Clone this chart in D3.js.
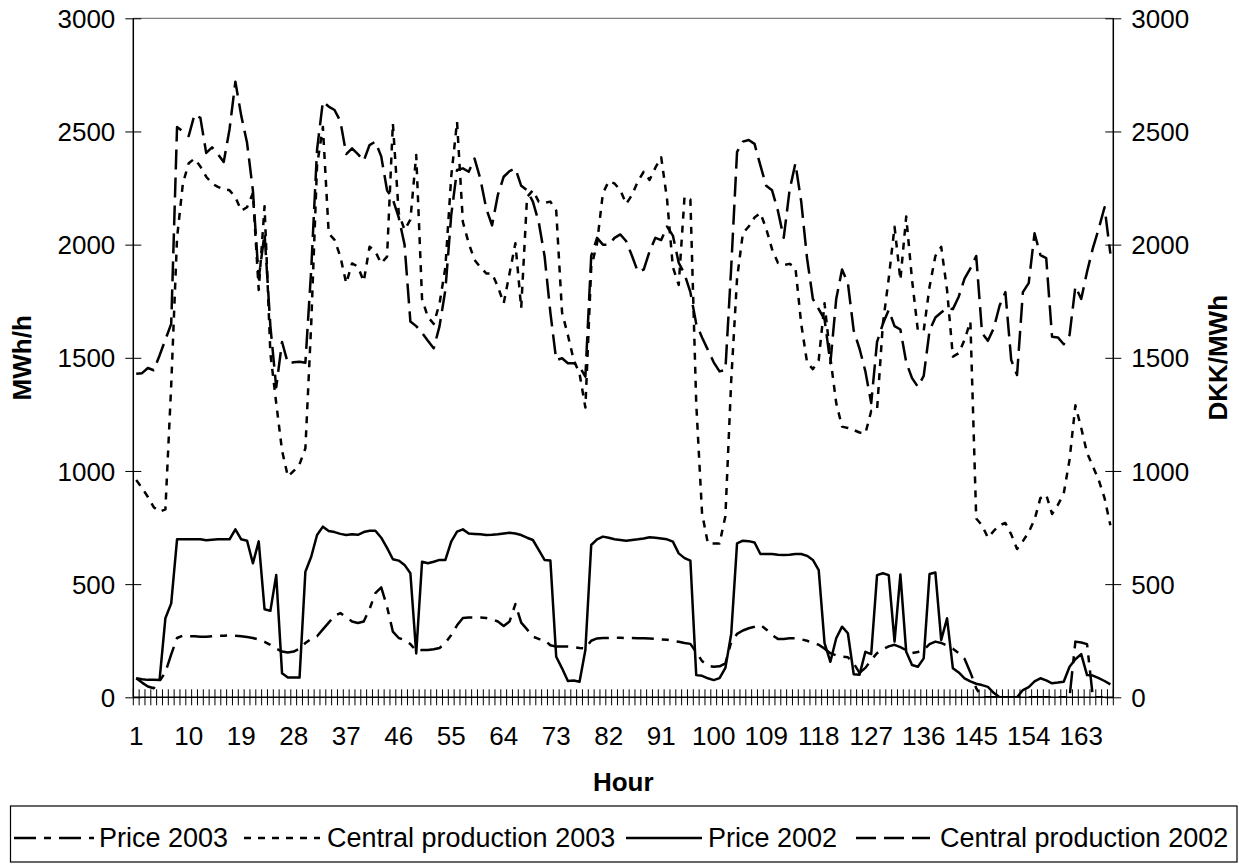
<!DOCTYPE html>
<html>
<head>
<meta charset="utf-8">
<script src="https://cdnjs.cloudflare.com/ajax/libs/d3/7.8.5/d3.min.js"></script>
<style>
body { margin: 0; background: #fff; }
svg { display: block; font-family: "Liberation Sans", Arial, sans-serif; }
</style>
</head>
<body>
<svg id="chart" width="1239" height="868"></svg>
<script>

// categories: hour of the week
var hours = d3.range(1, 169);
var hourLabels = [1, 10, 19, 28, 37, 46, 55, 64, 73, 82, 91, 100, 109, 118, 127, 136, 145, 154, 163];
var yTicks = [0, 500, 1000, 1500, 2000, 2500, 3000];

// DKK/MWh
var price2003 = [
	84, 65, 48, 40, 72, 110, 190, 262, 273, 270,
	270, 268, 268, 270, 272, 272, 274, 272, 270, 266,
	262, 255, 245, 232, 215, 202, 198, 202, 215, 240,
	258, 270, 300, 330, 360, 372, 355, 335, 328, 335,
	390, 460, 486, 400, 290, 262, 253, 235, 205, 209,
	209, 212, 218, 240, 275, 318, 350, 353, 353, 353,
	350, 345, 335, 315, 335, 412, 330, 300, 268, 258,
	253, 230, 224, 224, 224, 222, 218, 216, 250, 260,
	262, 262, 263, 263, 262, 262, 261, 261, 260, 258,
	256, 254, 250, 245, 240, 236, 200, 160, 140, 135,
	137, 150, 245, 280, 295, 305, 312, 320, 300, 275,
	258, 258, 261, 261, 256, 250, 240, 232, 215, 195,
	185, 180, 177, 150, 108, 130, 165, 195, 212, 225,
	232, 222, 208, 195, 200, 209, 235, 246, 240, 228,
	215, 195, 170, 110, 40, 0, 0, 0, 0, 0,
	0, 0, 0, 0, 0, 0, 0, 0, 0, 0,
	0, 246, 242, 235, 0, 0, 0, 0
];

// MWh/h
var central2003 = [
	960, 925, 885, 840, 820, 830, 1380, 2030, 2270, 2360,
	2380, 2345, 2300, 2270, 2255, 2245, 2240, 2210, 2150, 2165,
	2227, 1800, 2170, 1520, 1300, 1090, 975, 1000, 1030, 1100,
	1650, 2350, 2520, 2050, 2021, 1947, 1829, 1917, 1903, 1837,
	1991, 1969, 1917, 1947, 2536, 2139, 2065, 2110, 2396, 1760,
	1680, 1650, 1740, 1900, 2300, 2543, 2100, 2006, 1932, 1900,
	1873, 1873, 1814, 1741, 1873, 2006, 1720, 2210, 2240, 2190,
	2185, 2190, 2150, 1700, 1600, 1490, 1430, 1280, 1900, 2006,
	2227, 2280, 2270, 2240, 2180, 2220, 2280, 2322, 2286, 2340,
	2386, 2200, 1900, 1822, 2212, 2200, 1300, 813, 680, 680,
	680, 800, 1400, 1850, 2050, 2080, 2120, 2140, 2070, 1980,
	1920, 1910, 1915, 1900, 1650, 1480, 1450, 1490, 1741, 1500,
	1300, 1196, 1190, 1181, 1170, 1166, 1265, 1270, 1650, 1850,
	2079, 1844, 2124, 1844, 1620, 1620, 1814, 1950, 1990, 1800,
	1505, 1520, 1580, 1660, 790, 760, 705, 735, 760, 770,
	720, 655, 690, 730, 785, 880, 895, 810, 850, 900,
	1050, 1290, 1190, 1080, 1020, 960, 880, 760
];

// DKK/MWh
var price2002 = [
	84, 80, 77, 77, 76, 349, 415, 698, 698, 698,
	698, 698, 694, 696, 698, 698, 698, 742, 698, 692,
	592, 689, 389, 382, 540, 106, 87, 87, 87, 555,
	621, 717, 754, 735, 730, 722, 717, 720, 718, 730,
	736, 736, 705, 660, 610, 604, 585, 548, 194, 599,
	592, 599, 607, 607, 688, 732, 742, 724, 722, 720,
	717, 718, 720, 724, 727, 724, 717, 705, 695, 651,
	607, 604, 179, 128, 72, 74, 69, 209, 673, 698,
	710, 705, 698, 695, 692, 695, 698, 702, 707, 705,
	702, 698, 688, 636, 615, 604, 98, 95, 84, 76,
	85, 130, 280, 680, 692, 690, 684, 633, 633, 633,
	630, 629, 630, 633, 633, 625, 607, 562, 239, 157,
	261, 312, 283, 102, 100, 201, 191, 540, 548, 540,
	246, 543, 201, 143, 135, 172, 545, 551, 253, 349,
	128, 110, 84, 70, 60, 54, 46, 20, 0, 0,
	0, 0, 32, 45, 70, 84, 75, 62, 65, 69,
	135, 168, 191, 98, 96, 85, 72, 57
];

// MWh/h
var central2002 = [
	1430, 1432, 1455, 1445, 1510, 1580, 1650, 2520, 2500, 2480,
	2575, 2560, 2405, 2430, 2400, 2365, 2510, 2720, 2570, 2450,
	2240, 1850, 2050, 1640, 1370, 1570, 1476, 1480, 1483, 1478,
	1890, 2420, 2632, 2610, 2595, 2545, 2400, 2425, 2400, 2370,
	2440, 2455, 2390, 2240, 2200, 2120, 2000, 1660, 1640, 1610,
	1575, 1542, 1640, 1800, 2130, 2330, 2337, 2322, 2380, 2290,
	2160, 2085, 2220, 2300, 2325, 2337, 2260, 2240, 2190, 2100,
	1950, 1700, 1490, 1498, 1476, 1476, 1460, 1417, 1950, 2030,
	2000, 2000, 2030, 2045, 2015, 1950, 1880, 1890, 1970, 2030,
	2020, 2080, 2040, 1920, 1870, 1790, 1650, 1590, 1535, 1480,
	1440, 1446, 1900, 2410, 2455, 2462, 2445, 2350, 2260, 2240,
	2150, 2030, 2240, 2359, 2190, 1940, 1760, 1715, 1670, 1476,
	1760, 1890, 1830, 1620, 1540, 1440, 1300, 1570, 1650, 1711,
	1640, 1625, 1480, 1410, 1372, 1420, 1620, 1678, 1700, 1720,
	1715, 1770, 1850, 1895, 1950, 1610, 1575, 1630, 1730, 1790,
	1490, 1424, 1790, 1830, 2050, 1954, 1940, 1593, 1590, 1560,
	1600, 1815, 1760, 1880, 1985, 2070, 2165, 1960
];

var seriesNames = ["Price 2003", "Central production 2003", "Price 2002", "Central production 2002"];
var seriesValues = [price2003, central2003, price2002, central2002];
var seriesDash = ["22,8,7,8", "7,7", null, "20,8"];


var plotLeft = 133.3,
	plotRight = 1113.3,
	plotTop = 18.3,
	plotBottom = 697.3;

var svg = d3.select("#chart");

var x = d3.scaleBand()
	.domain(hours)
	.range([plotLeft, plotRight]);

var y = d3.scaleLinear()		//both axes run 0-3000
	.domain([0, 3000])
	.range([plotBottom, plotTop]);

var half = x.bandwidth() / 2;

//plot area border (top edge only shows)
svg.append("line")
	.attr("x1", plotLeft).attr("x2", plotRight)
	.attr("y1", plotTop).attr("y2", plotTop)
	.attr("stroke", "#808080")
	.attr("stroke-width", 1.3);

//clip lines to plot area
svg.append("clipPath").attr("id", "plotClip")
	.append("rect")
	.attr("x", plotLeft).attr("y", plotTop - 2)
	.attr("width", plotRight - plotLeft)
	.attr("height", plotBottom - plotTop + 2);

//hour tick marks sit between categories
var tickX = hours.map(function(h){ return x(h); }).concat([plotRight]);
svg.append("g")
	.selectAll("line")
	.data(tickX)
	.enter().append("line")
	.attr("x1", function(d){ return d; })
	.attr("x2", function(d){ return d; })
	.attr("y1", plotBottom - 8)
	.attr("y2", plotBottom + 8)
	.attr("stroke", "#000")
	.attr("stroke-width", 1);

//hour labels
var xAxis = svg.append("g")
	.attr("transform", "translate(0," + plotBottom + ")")
	.call(d3.axisBottom(x).tickValues(hourLabels).tickSize(0).tickPadding(0));
xAxis.select(".domain").remove();
xAxis.selectAll("text")
	.attr("y", 48)
	.attr("dy", null)
	.attr("font-size", 26)
	.attr("font-family", null)
	.attr("fill", "#000");

var fmt = d3.format("d");

//left axis
var yLeft = svg.append("g")
	.attr("transform", "translate(" + plotLeft + ",0)")
	.call(d3.axisLeft(y).tickValues(yTicks).tickFormat(fmt).tickSize(8).tickPadding(0));
yLeft.selectAll(".tick line").attr("x1", 8).attr("x2", -8).attr("stroke", "#000");
yLeft.selectAll("text")
	.attr("x", -18)
	.attr("dy", "0.35em")
	.attr("font-size", 26)
	.attr("font-family", null)
	.attr("fill", "#000");

//right axis
var yRight = svg.append("g")
	.attr("transform", "translate(" + plotRight + ",0)")
	.call(d3.axisRight(y).tickValues(yTicks).tickFormat(fmt).tickSize(8).tickPadding(0));
yRight.selectAll(".tick line").attr("x1", -8).attr("x2", 8).attr("stroke", "#000");
yRight.selectAll("text")
	.attr("x", 18)
	.attr("dy", "0.35em")
	.attr("font-size", 26)
	.attr("font-family", null)
	.attr("fill", "#000");

[yLeft, yRight].forEach(function(g){
	g.select(".domain").attr("d", "M0," + plotTop + "V" + plotBottom).attr("stroke", "#000").attr("stroke-width", 1.5);
});

//bottom axis line
svg.append("line")
	.attr("x1", plotLeft).attr("x2", plotRight)
	.attr("y1", plotBottom).attr("y2", plotBottom)
	.attr("stroke", "#000")
	.attr("stroke-width", 1.5);

//series lines
var line = d3.line()
	.x(function(d, i){ return x(hours[i]) + half; })
	.y(function(d){ return y(d); });

var lines = svg.append("g").attr("clip-path", "url(#plotClip)");
seriesValues.forEach(function(vals, i){
	lines.append("path")
		.attr("d", line(vals))
		.attr("fill", "none")
		.attr("stroke", "#000")
		.attr("stroke-width", 2.5)
		.attr("stroke-linejoin", "round")
		.attr("stroke-dasharray", seriesDash[i]);
});

//axis titles
svg.append("text")
	.attr("x", (plotLeft + plotRight) / 2)
	.attr("y", 791)
	.attr("text-anchor", "middle")
	.attr("font-size", 26)
	.attr("font-weight", "bold")
	.text("Hour");

svg.append("text")
	.attr("transform", "translate(22," + (plotTop + plotBottom) / 2 + ") rotate(-90)")
	.attr("text-anchor", "middle")
	.attr("dominant-baseline", "central")
	.attr("font-size", 26)
	.attr("font-weight", "bold")
	.text("MWh/h");

svg.append("text")
	.attr("transform", "translate(1218," + (plotTop + plotBottom) / 2 + ") rotate(-90)")
	.attr("text-anchor", "middle")
	.attr("dominant-baseline", "central")
	.attr("font-size", 26)
	.attr("font-weight", "bold")
	.text("DKK/MWh");

//legend
var legendTop = 806, legendBottom = 862;
var legendMid = 838;
var legendX = [[10, 94, 99], [240, 320, 327], [622, 702, 708], [852, 930, 940]];

svg.append("rect")
	.attr("x", 10.5).attr("y", legendTop)
	.attr("width", 1237 - 10.5).attr("height", legendBottom - legendTop)
	.attr("fill", "none")
	.attr("stroke", "#000")
	.attr("stroke-width", 1.2);

seriesNames.forEach(function(name, i){
	var lx = legendX[i];
	svg.append("line")
		.attr("x1", lx[0] + 4).attr("x2", lx[1])
		.attr("y1", legendMid).attr("y2", legendMid)
		.attr("stroke", "#000")
		.attr("stroke-width", 2.5)
		.attr("stroke-dasharray", seriesDash[i]);
	svg.append("text")
		.attr("x", lx[2])
		.attr("y", legendMid)
		.attr("dy", "0.35em")
		.attr("font-size", 27)
		.text(name);
});

</script>
</body>
</html>
